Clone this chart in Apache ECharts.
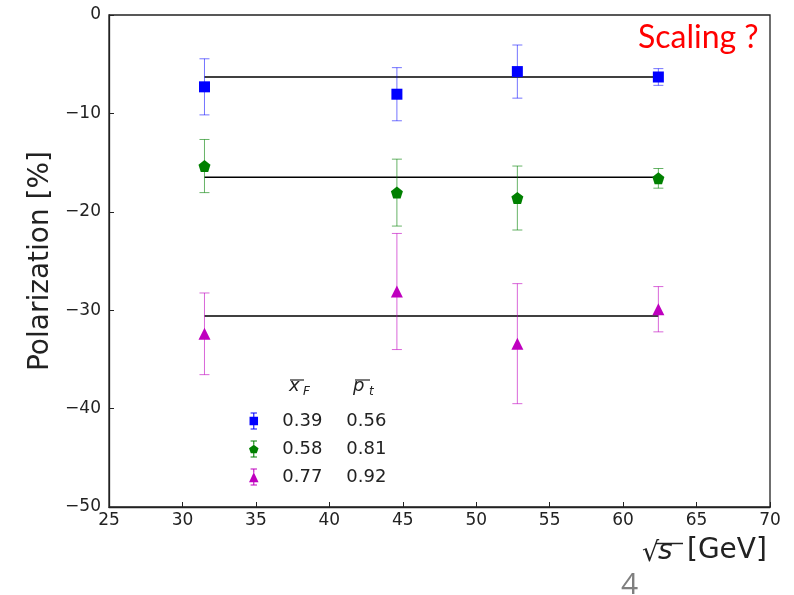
<!DOCTYPE html>
<html><head><meta charset="utf-8">
<script src="https://cdn.jsdelivr.net/npm/echarts@6/dist/echarts.min.js"></script>
<style>html,body{margin:0;padding:0;background:#fff}#c{width:794px;height:595px}</style>
</head><body><div id="c"></div>
<script>
// sqrt(s) [GeV]
const energies = [31.5, 44.6, 52.8, 62.4];
// polarization values [%] and errors
const polBlue = [-7.3, -8.05, -5.75, -6.3];
const errBlue = [2.85, 2.7, 2.7, 0.85];
const polGreen = [-15.35, -18.05, -18.6, -16.6];
const errGreen = [2.7, 3.4, 3.25, 1.0];
const polMag = [-32.4, -28.1, -33.4, -29.9];
const errMag = [4.15, 5.9, 6.1, 2.3];
// constant fits
const fitValues = [-6.3, -16.5, -30.6];
// legend entries
const xF = ['0.39', '0.58', '0.77'];
const pT = ['0.56', '0.81', '0.92'];
const xTicks = [25, 30, 35, 40, 45, 50, 55, 60, 65, 70];
const yTicks = [0, -10, -20, -30, -40, -50];

const colors = ['#0000ff', '#008000', '#bf00bf'];
const errColors = ['rgba(0,0,255,0.55)', 'rgba(0,128,0,0.6)', 'rgba(191,0,191,0.6)'];
const pentagon = 'path://M0,-10 L9.51,-3.09 L5.88,8.09 L-5.88,8.09 L-9.51,-3.09 Z';
const symbols = ['rect', pentagon, 'triangle'];
const legendIcons = [
  'path://M2,0H8V1H2ZM4.5,1H5.5V4H4.5ZM1,4H9V12H1ZM4.5,12H5.5V15H4.5ZM2,15H8V16H2Z',
  'path://M2,0H8V1H2ZM4.5,1H5.5V4H4.5ZM5,4L9.5,7.3L7.8,12H2.2L0.5,7.3ZM4.5,12H5.5V15H4.5ZM2,15H8V16H2Z',
  'path://M2,0H8V1H2ZM4.5,1H5.5V4H4.5ZM5,3.5L9.5,13H0.5ZM2,15H8V16H2ZM4.5,13H5.5V15H4.5Z'
];
const pols = [polBlue, polGreen, polMag];
const errs = [errBlue, errGreen, errMag];
const names = xF.map((v, i) => v + '|' + pT[i]);

const series = [];
for (let k = 0; k < 3; k++) {
  series.push({
    type: 'line', silent: true, symbol: 'none', z: 2,
    lineStyle: {color: '#000', width: 1.5},
    data: [[energies[0], fitValues[k]], [energies[energies.length - 1], fitValues[k]]]
  });
  series.push({
    type: 'custom', silent: true, z: 3,
    data: energies.map((e, i) => [e, pols[k][i] - errs[k][i], pols[k][i] + errs[k][i]]),
    renderItem: (params, api) => {
      const lo = api.coord([api.value(0), api.value(1)]);
      const hi = api.coord([api.value(0), api.value(2)]);
      const c = 5;
      const st = {stroke: errColors[k], lineWidth: 1};
      return {type: 'group', children: [
        {type: 'line', shape: {x1: lo[0], y1: lo[1], x2: hi[0], y2: hi[1]}, style: st},
        {type: 'line', shape: {x1: lo[0] - c, y1: lo[1], x2: lo[0] + c, y2: lo[1]}, style: st},
        {type: 'line', shape: {x1: hi[0] - c, y1: hi[1], x2: hi[0] + c, y2: hi[1]}, style: st}
      ]};
    }
  });
  series.push({
    type: 'scatter', name: names[k], z: 4,
    symbol: symbols[k], symbolSize: k === 0 ? 11 : 12,
    itemStyle: {color: colors[k], opacity: 1},
    data: energies.map((e, i) => [e, pols[k][i]])
  });
}

const chart = echarts.init(document.getElementById('c'), null, {renderer: 'canvas'});
chart.setOption({
  animation: false,
  backgroundColor: '#fff',
  grid: {left: 109, right: 24, top: 15, bottom: 88, show: true, borderColor: '#222', borderWidth: 1.3, backgroundColor: 'transparent'},
  xAxis: {
    type: 'value', min: xTicks[0], max: xTicks[xTicks.length - 1], interval: 5,
    axisLine: {onZero: false, lineStyle: {color: '#222', width: 1.3}},
    axisTick: {inside: true, length: 5, lineStyle: {color: '#222'}},
    axisLabel: {color: '#222', fontSize: 17, fontFamily: 'DejaVu Sans', margin: 5},
    splitLine: {show: false}
  },
  yAxis: {
    type: 'value', min: yTicks[yTicks.length - 1], max: yTicks[0], interval: 10,
    name: 'Polarization [%]', nameLocation: 'middle', nameGap: 51,
    nameTextStyle: {color: '#222', fontSize: 28, fontFamily: 'DejaVu Sans'},
    axisLine: {onZero: false, lineStyle: {color: '#222', width: 1.3}},
    axisTick: {inside: true, length: 5, lineStyle: {color: '#222'}},
    axisLabel: {color: '#222', fontSize: 17, fontFamily: 'DejaVu Sans', margin: 8,
      formatter: v => (v < 0 ? '\u2212' + Math.abs(v) : String(v))},
    splitLine: {show: false}
  },
  legend: {
    orient: 'vertical', left: 244, top: 407, itemWidth: 11, itemHeight: 17, itemGap: 10,
    selectedMode: false,
    data: names.map((n, i) => ({name: n, icon: legendIcons[i], itemStyle: {color: colors[i]}})),
    formatter: n => { const p = n.split('|'); return '{a|' + p[0] + '}{b|' + p[1] + '}'; },
    textStyle: {color: '#222', fontSize: 18, fontFamily: 'DejaVu Sans',
      rich: {a: {fontSize: 18, fontFamily: 'DejaVu Sans', color: '#222', width: 64, padding: [0, 0, 0, 18]},
             b: {fontSize: 18, fontFamily: 'DejaVu Sans', color: '#222'}}}
  },
  graphic: [
    {type: 'text', left: 638, top: 22, style: {text: 'Scaling ?', fill: '#ff0000', font: '32px Lato'}},
    {type: 'text', left: 621, top: 570, style: {text: '4', fill: '#7f7f7f', font: '30px "Open Sans"'}},
    // legend headers
    {type: 'text', left: 289, top: 377, style: {text: 'x', fill: '#222', font: 'italic 18px "DejaVu Sans"'}},
    {type: 'text', left: 303, top: 386, style: {text: 'F', fill: '#222', font: 'italic 12px "DejaVu Sans"'}},
    {type: 'line', shape: {x1: 290, y1: 380, x2: 304, y2: 380}, style: {stroke: '#222', lineWidth: 1.2}},
    {type: 'text', left: 353, top: 377, style: {text: 'p', fill: '#222', font: 'italic 18px "DejaVu Sans"'}},
    {type: 'text', left: 369, top: 386, style: {text: 't', fill: '#222', font: 'italic 12px "DejaVu Sans"'}},
    {type: 'line', shape: {x1: 355, y1: 380, x2: 370, y2: 380}, style: {stroke: '#222', lineWidth: 1.2}},
    // x axis name
    {type: 'text', left: 642, top: 540, style: {text: '\u221A', fill: '#222', font: '27px "DejaVu Sans"'}},
    {type: 'line', shape: {x1: 656, y1: 543.5, x2: 683, y2: 543.5}, style: {stroke: '#222', lineWidth: 1.5}},
    {type: 'text', left: 658, top: 538, style: {text: 's', fill: '#222', font: 'italic 28px "DejaVu Sans"'}},
    {type: 'text', left: 687, top: 537, style: {text: '[GeV]', fill: '#222', font: '28px "DejaVu Sans"'}}
  ],
  series: series
});
</script></body></html>
